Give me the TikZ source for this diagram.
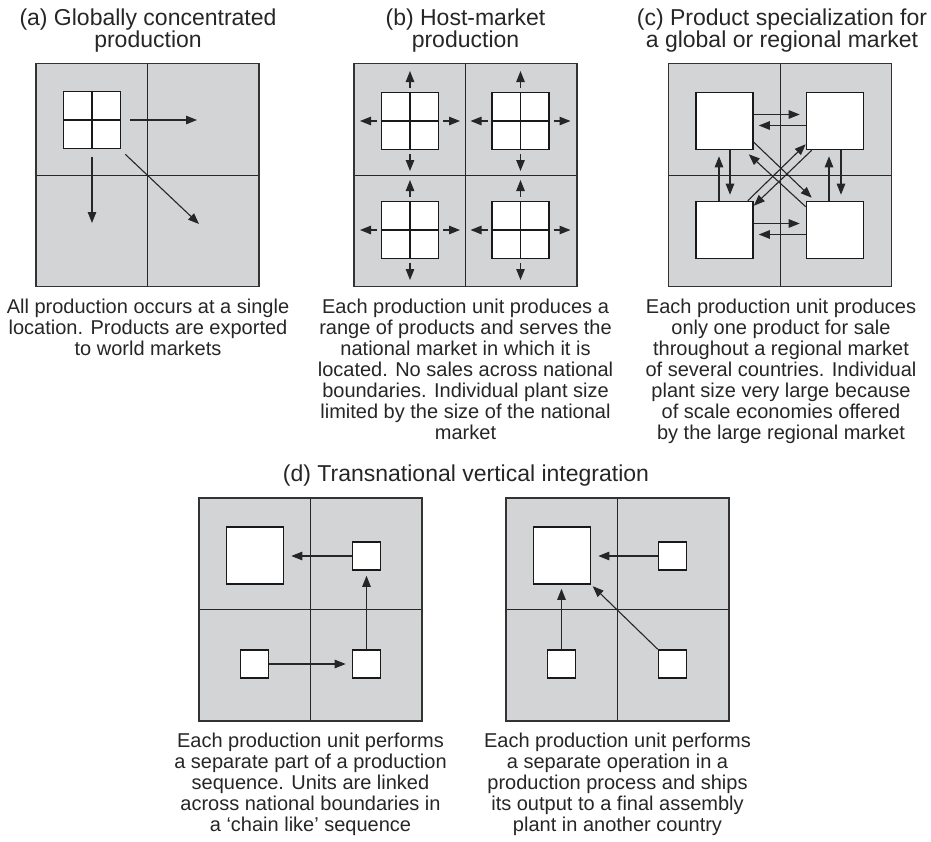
\documentclass[tikz,border=0pt]{standalone}
\usepackage{fontspec}
\setmainfont{Liberation Sans}
\usetikzlibrary{arrows.meta, calc}
\definecolor{countrygray}{RGB}{211,212,214}
\tikzstyle{country} = [rectangle, minimum size=223pt, inner sep=0pt, draw=black!80, line width=1.3pt, fill=countrygray, path picture={\draw[line width=1pt, black!85] (path picture bounding box.north) -- (path picture bounding box.south) (path picture bounding box.west) -- (path picture bounding box.east);}]
\tikzstyle{plant} = [rectangle, minimum size=57pt, inner sep=0pt, draw=black!90, line width=1.6pt, fill=white]
\tikzstyle{multiplant} = [plant, path picture={\draw[line width=1.6pt, black!90] (path picture bounding box.north) -- (path picture bounding box.south) (path picture bounding box.west) -- (path picture bounding box.east);}]
\tikzstyle{smallplant} = [plant, minimum size=28pt]
\tikzstyle{arrow} = [line width=1.1pt, black!85, -{Triangle[length=11pt,width=8.5pt]}]
\tikzstyle{title} = [align=center, anchor=north, inner sep=0pt, font=\fontsize{23}{21.5}\selectfont, text=black!85]
\tikzstyle{caption} = [align=center, anchor=north, inner sep=0pt, font=\fontsize{20}{21}\selectfont, text=black!85]

\begin{document}
\begin{tikzpicture}[x=1pt, y=-1pt]
        \useasboundingbox (0,0) rectangle (931,841);
        % Nodes
        \node (pa) [country] at (147.5,175) {};
        \node (pb) [country] at (465.5,175) {};
        \node (pc) [country] at (780,175) {};
        \node (pd) [country] at (310.5,609.5) {};
        \node (pe) [country] at (617.5,609.5) {};

        \node (ua) [multiplant] at (92,120) {};
        \coordinate (aE) at (197,120);
        \coordinate (aS) at (92,223);
        \coordinate (aSE) at (199,224);

        \node (b1) [multiplant] at (410,121) {};
        \node (b2) [multiplant] at (520.5,121) {};
        \node (b3) [multiplant] at (410,230) {};
        \node (b4) [multiplant] at (520.5,230) {};

        \node (c1) [plant] at (724.5,121) {};
        \node (c2) [plant] at (835,121) {};
        \node (c3) [plant] at (724.5,230) {};
        \node (c4) [plant] at (835,230) {};

        \node (d1) [plant] at (255,555.5) {};
        \node (d2) [smallplant] at (366.5,556) {};
        \node (d3) [smallplant] at (366.5,664) {};
        \node (d4) [smallplant] at (254.5,664) {};

        \node (e1) [plant] at (562,555.5) {};
        \node (e2) [smallplant] at (672.5,556) {};
        \node (e3) [smallplant] at (672.5,664) {};
        \node (e4) [smallplant] at (561.5,664) {};

        % Titles and captions
        \node (ta) [title] at (148,9) {(a) Globally concentrated\\production};
        \node (tb) [title] at (465.5,9) {(b) Host-market\\production};
        \node (tc) [title] at (782,9) {(c) Product specialization for\\a global or regional market};
        \node (td) [title] at (466,465) {(d) Transnational vertical integration};

        \node (capa) [caption] at (148,299) {All production occurs at a single\\location. Products are exported\\to world markets};
        \node (capb) [caption] at (465.5,299) {Each production unit produces a\\range of products and serves the\\national market in which it is\\located. No sales across national\\boundaries. Individual plant size\\limited by the size of the national\\market};
        \node (capc) [caption] at (781,299) {Each production unit produces\\only one product for sale\\throughout a regional market\\of several countries. Individual\\plant size very large because\\of scale economies offered\\by the large regional market};
        \node (capd) [caption] at (310.5,733) {Each production unit performs\\a separate part of a production\\sequence. Units are linked\\across national boundaries in\\a ‘chain like’ sequence};
        \node (cape) [caption] at (617.5,733) {Each production unit performs\\a separate operation in a\\production process and ships\\its output to a final assembly\\plant in another country};

        % Arrows
        \draw [arrow] ([xshift=9pt]ua.east) -- (aE);
        \draw [arrow] ([yshift=-8pt]ua.south) -- (aS);
        \draw [arrow] ([xshift=4pt,yshift=-5pt]ua.south east) -- (aSE);

        \foreach \u in {b1,b2,b3,b4}
            \foreach \d in {north,south,east,west}
                \draw [arrow] ($(\u.center)!33pt!(\u.\d)$) -- ($(\u.center)!50pt!(\u.\d)$);

        \draw [arrow] ([yshift=6.5pt]c1.east) -- ([yshift=6.5pt,xshift=-6pt]c2.west);
        \draw [arrow] ([yshift=-4.5pt]c2.west) -- ([yshift=-4.5pt,xshift=5pt]c1.east);
        \draw [arrow] ([yshift=6.5pt]c3.east) -- ([yshift=6.5pt,xshift=-6pt]c4.west);
        \draw [arrow] ([yshift=-4.5pt]c4.west) -- ([yshift=-4.5pt,xshift=5pt]c3.east);
        \draw [arrow] ([xshift=-5.5pt]c3.north) -- ([xshift=-5.5pt,yshift=-6pt]c1.south);
        \draw [arrow] ([xshift=5.5pt]c1.south) -- ([xshift=5.5pt,yshift=6pt]c3.north);
        \draw [arrow] ([xshift=-6pt]c4.north) -- ([xshift=-6pt,yshift=-6pt]c2.south);
        \draw [arrow] ([xshift=6pt]c2.south) -- ([xshift=6pt,yshift=6pt]c4.north);
        \draw [arrow] ([yshift=8pt]c1.south east) -- ([xshift=6pt,yshift=3pt]c4.north west);
        \draw [arrow] ([yshift=-6pt]c4.north west) -- ([xshift=-5pt,yshift=-4pt]c1.south east);
        \draw [arrow] ([xshift=-6pt]c3.north east) -- ([yshift=6pt]c2.south west);
        \draw [arrow] ([xshift=6pt]c2.south west) -- ([yshift=-5pt]c3.north east);

        \draw [arrow, shorten >=7pt] (d2.west) -- (d2.west -| d1.east);
        \draw [arrow, shorten >=6pt] (d4.east) -- (d3.west);
        \draw [arrow, shorten >=5pt] (d3.north) -- (d2.south);

        \draw [arrow, shorten >=7pt] (e2.west) -- (e2.west -| e1.east);
        \draw [arrow, shorten >=4pt] (e4.north) -- (e4.north |- e1.south);
        \draw [arrow, shorten >=2pt] (e3.north west) -- (e1.south east);
\end{tikzpicture}
\end{document}
